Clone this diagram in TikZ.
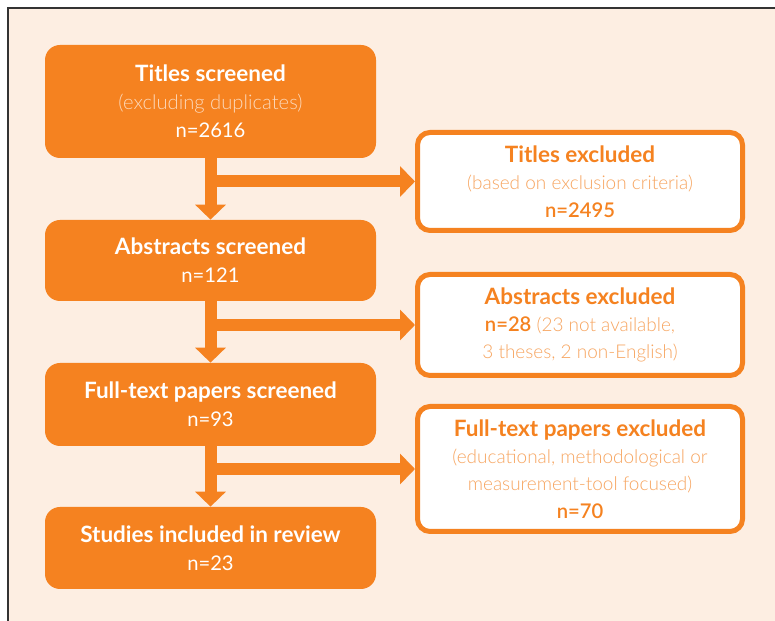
\documentclass[tikz,border=0pt]{standalone}
\usepackage{fontspec}
\setmainfont{Lato}
\newfontfamily\lightfont{Lato Light}
\newfontfamily\semifont{Lato Semibold}
\usetikzlibrary{positioning,arrows.meta}
\definecolor{prisma}{HTML}{F58220}
\definecolor{paper}{HTML}{FDEEE2}
\definecolor{pale}{HTML}{FCD8BA}
\definecolor{soft}{HTML}{F7A560}
\newcommand{\stage}[1]{{\fontsize{12.8}{16}\selectfont\bfseries #1}}
\newcommand{\note}[1]{{\lightfont\color{soft}\fontsize{10.8}{15.5}\selectfont #1}}

\tikzset{
  screened/.style={rectangle, rounded corners=0.3cm, fill=prisma, text=white,
    minimum width=6.62cm, align=center, font=\fontsize{11.5}{16}\selectfont},
  excluded/.style={rectangle, rounded corners=0.25cm, draw=prisma, line width=0.1cm,
    fill=white, text=prisma, minimum width=6.5cm, align=center,
    font=\fontsize{11.5}{15.5}\selectfont},
  flow/.style={prisma, line width=0.24cm,
    -{Triangle[width=0.6cm, length=0.3cm]}},
}

\begin{document}
\begin{tikzpicture}
  \useasboundingbox (0,0) rectangle (15.5,12.42);
  \clip (0,0) rectangle (15.5,12.42);
  \fill[white] (0,0) rectangle (15.5,12.42);
  \draw[fill=paper, draw=black!80, line width=0.04cm] (0.16,-1) rectangle (16.5,12.26);

  % screening stages
  \node[screened, minimum height=2.26cm] (titles) at (4.21,10.39)
    {\stage{Titles screened}\\{\lightfont\color{pale}(excluding duplicates)}\\n=2616};
  \node[screened, minimum height=1.62cm] (abstracts) at (4.21,7.21)
    {\stage{Abstracts screened}\\n=121};
  \node[screened, minimum height=1.66cm] (fulltext) at (4.21,4.33)
    {\stage{Full-text papers screened}\\n=93};
  \node[screened, minimum height=1.64cm] (included) at (4.21,1.46)
    {\stage{Studies included in review}\\n=23};

  % exclusions
  \node[excluded, minimum height=1.96cm] (titlesout) at (11.6,8.79)
    {\stage{Titles excluded}\\\note{(based on exclusion criteria)}\\{\semifont n=2495}};
  \node[excluded, minimum height=2.02cm] (abstractsout) at (11.6,5.92)
    {\stage{Abstracts excluded}\\{\semifont n=28} \note{(23 not available,}\\\note{3 theses, 2 non-English)}};
  \node[excluded, minimum height=2.5cm] (fulltextout) at (11.6,3.04)
    {\stage{Full-text papers excluded}\\\note{(educational, methodological or}\\\note{measurement-tool focused)}\\{\semifont n=70}};

  % arrows
  \draw[flow] (titles) -- (abstracts);
  \draw[flow] (abstracts) -- (fulltext);
  \draw[flow] (fulltext) -- (included);
  \draw[flow] (titles.south |- titlesout) -- (titlesout);
  \draw[flow] (abstracts.south |- abstractsout) -- (abstractsout);
  \draw[flow] (fulltext.south |- fulltextout) -- (fulltextout);
\end{tikzpicture}
\end{document}
